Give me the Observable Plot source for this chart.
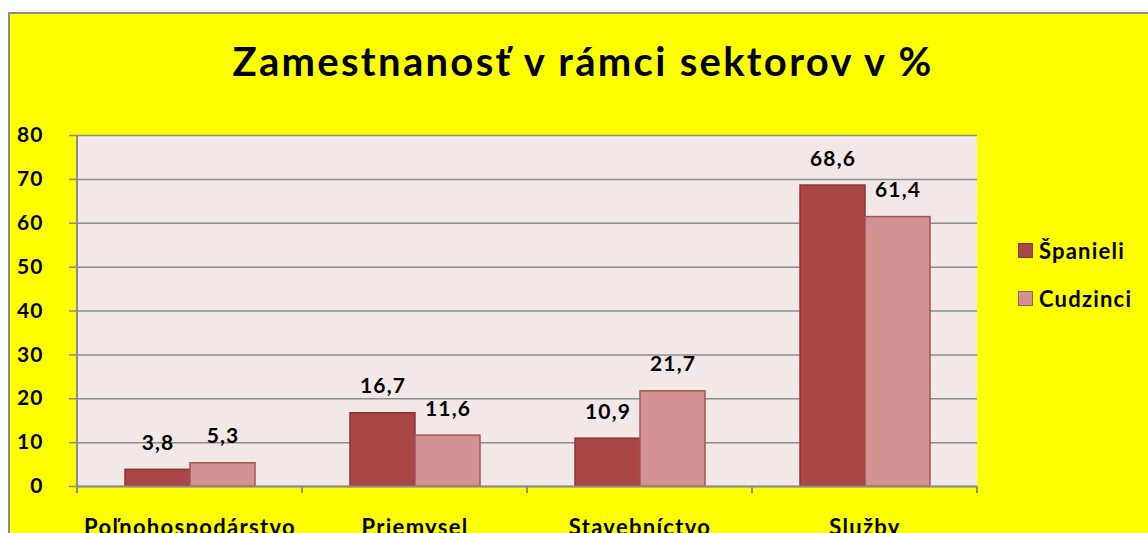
<!DOCTYPE html>
<html>
<head>
<meta charset="utf-8">
<script src="https://cdn.jsdelivr.net/npm/d3@7"></script>
<script src="https://cdn.jsdelivr.net/npm/@observablehq/plot@0.6"></script>
<style>
  html, body { margin: 0; padding: 0; width: 1148px; height: 533px; overflow: hidden; background: #fff; font-family: Lato, sans-serif; }
  #frame { position: absolute; left: 8px; top: 12px; width: 1300px; height: 700px; background: #ffff00; border: 2px solid #8c8c8c; box-sizing: border-box; }
  #title { position: absolute; left: 0; top: 37px; width: 1166px; text-align: center; font: 700 40px Lato, sans-serif; letter-spacing: 2.3px; color: #000; white-space: nowrap; }
  #chart { position: absolute; left: 0; top: 100px; }
  .legend { position: absolute; left: 1018px; font: 700 22px Lato, sans-serif; letter-spacing: 1.2px; color: #000; display: flex; align-items: center; }
  .legend span.sw { display: inline-block; width: 13px; height: 13px; margin-right: 6px; border: 1.5px solid; }
  #chart svg text { letter-spacing: 1.1px; }
  #chart svg g.fxaxis text { letter-spacing: 1.3px; }
</style>
</head>
<body>
<div id="frame"></div>
<div id="title">Zamestnanosť v rámci sektorov v %</div>
<div id="chart"></div>
<div id="legend"></div>
<script>
const categories = ["Poľnohospodárstvo", "Priemysel", "Stavebníctvo", "Služby"];
const series = ["Španieli", "Cudzinci"];
const spanieli = [3.8, 16.7, 10.9, 68.6];
const cudzinci = [5.3, 11.6, 21.7, 61.4];
const yTicks = [0, 10, 20, 30, 40, 50, 60, 70, 80];
const fills = ["#a84745", "#d29291"];
const strokes = ["#8b3634", "#a55553"];

const data = [];
categories.forEach((c, i) => {
  data.push({category: c, series: series[0], value: spanieli[i]});
  data.push({category: c, series: series[1], value: cudzinci[i]});
});

const fmt = v => v.toFixed(1).replace(".", ",");

const plot = Plot.plot({
  width: 1148,
  height: 460,
  marginLeft: 77,
  marginRight: 171,
  marginTop: 35,
  marginBottom: 74,
  style: { background: "transparent", fontFamily: "Lato, sans-serif", fontWeight: 700, fontSize: "21px", color: "#000" },
  fx: { domain: categories, paddingInner: 0, paddingOuter: 0, label: null, axis: null },
  x: { domain: series, paddingInner: 0, paddingOuter: 0.73, axis: null },
  y: { domain: [0, 80], label: null, axis: null },
  color: { domain: series, range: fills },
  marks: [
    Plot.gridY(yTicks, { stroke: "#8c8c8c", strokeOpacity: 1, strokeWidth: 1.5 }),
    Plot.barY(data, { fx: "category", x: "series", y: "value", fill: "series", stroke: d => d.series === series[0] ? strokes[0] : strokes[1], strokeWidth: 1.5 }),
    Plot.text(data, { fx: "category", x: "series", y: "value", text: d => fmt(d.value), lineAnchor: "bottom", dy: -20, fontSize: 21, fontWeight: 700, fill: "#000" }),
    Plot.ruleY([0], { stroke: "#8c8c8c", strokeWidth: 2 }),
    Plot.axisY({ ticks: yTicks, tickSize: 8, tickPadding: 26, stroke: "#8c8c8c", strokeWidth: 1.5, fontSize: 21, fontWeight: 700, anchor: "left", label: null }),
    Plot.axisFx({ anchor: "bottom", tickSize: 0, tickPadding: 33, fontSize: 22, fontWeight: 700, label: null, className: "fxaxis" })
  ]
});

// plot-area background, x axis boundary ticks and y axis line, positioned via the plot's scales
const svg = d3.select(plot);
const fx = plot.scale("fx");
const y = plot.scale("y");
const bw = fx.bandwidth;
const bounds = categories.map(c => fx.apply(c)).concat([fx.apply(categories[categories.length - 1]) + bw]);
const y0 = y.apply(0), yTop = y.apply(80);
svg.insert("rect", ":first-child")
  .attr("x", bounds[0]).attr("y", yTop)
  .attr("width", bounds[bounds.length - 1] - bounds[0]).attr("height", y0 - yTop)
  .attr("fill", "#f2e8e8");
const g = svg.append("g");
g.append("line").attr("x1", bounds[0]).attr("x2", bounds[0]).attr("y1", yTop).attr("y2", y0).attr("stroke", "#8c8c8c").attr("stroke-width", 2);
bounds.forEach(b => {
  g.append("line").attr("x1", b).attr("x2", b).attr("y1", y0).attr("y2", y0 + 7).attr("stroke", "#8c8c8c").attr("stroke-width", 2);
});
document.getElementById("chart").appendChild(plot);

// legend
const leg = document.getElementById("legend");
const legTops = [237, 285];
series.forEach((s, i) => {
  const d = document.createElement("div");
  d.className = "legend";
  d.style.top = legTops[i] + "px";
  d.innerHTML = `<span class="sw" style="background:${fills[i]};border-color:${strokes[i]}"></span>${s}`;
  leg.appendChild(d);
});
</script>
</body>
</html>
